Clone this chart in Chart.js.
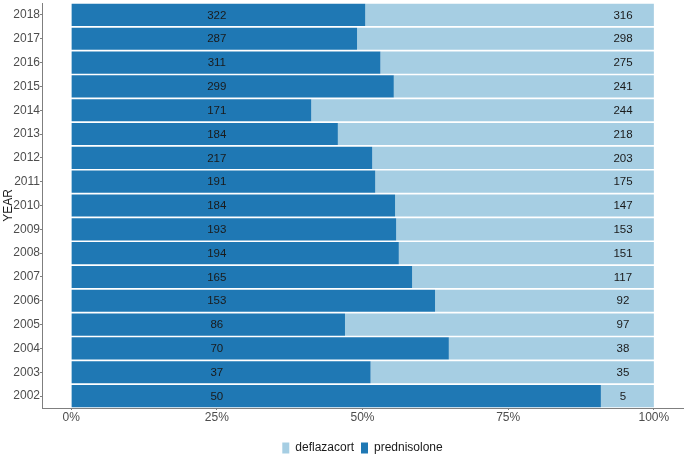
<!DOCTYPE html>
<html><head><meta charset="utf-8">
<script src="https://cdn.jsdelivr.net/npm/chart.js@4"></script>
<style>html,body{margin:0;padding:0;background:#fff}#wrap{width:685px;height:455px}</style>
</head><body><div id="wrap"><canvas id="c"></canvas></div>
<script>
const years = ['2018','2017','2016','2015','2014','2013','2012','2011','2010','2009','2008','2007','2006','2005','2004','2003','2002'];
const prednisolone = [322,287,311,299,171,184,217,191,184,193,194,165,153,86,70,37,50];
const deflazacort  = [316,298,275,241,244,218,203,175,147,153,151,117,92,97,38,35,5];
const xTicks = [0,0.25,0.5,0.75,1];

const predShare = prednisolone.map((p,i)=>p/(p+deflazacort[i]));
const deflShare = deflazacort.map((d,i)=>d/(prednisolone[i]+d));
const FONT = '"Liberation Sans", Arial, sans-serif';

const labelPlugin = {
  id:'countLabels',
  afterDatasetsDraw(chart){
    const ctx = chart.ctx, xs = chart.scales.x, ys = chart.scales.y;
    ctx.save();
    ctx.font = '11.5px ' + FONT;
    ctx.fillStyle = '#1a1a1a';
    ctx.textAlign = 'center'; ctx.textBaseline = 'middle';
    years.forEach((y,i)=>{
      const py = ys.getPixelForValue(i);
      ctx.fillText(String(prednisolone[i]), xs.getPixelForValue(0.25), py+0.5);
      ctx.fillText(String(deflazacort[i]), xs.getPixelForValue(0.947), py+0.5);
    });
    ctx.restore();
  }
};

new Chart(document.getElementById('c'), {
  type:'bar',
  data:{
    labels: years,
    datasets:[
      {label:'prednisolone', data: predShare, backgroundColor:'#1f78b4', borderWidth:0, barPercentage:0.93, categoryPercentage:1},
      {label:'deflazacort', data: deflShare, backgroundColor:'#a6cee3', borderWidth:0, barPercentage:0.93, categoryPercentage:1}
    ]
  },
  options:{
    indexAxis:'y',
    responsive:true, maintainAspectRatio:false, animation:false,
    layout:{padding:{top:3,right:2,left:0,bottom:-9}},
    plugins:{
      legend:{position:'bottom', reverse:true, fullSize:false,
        labels:{boxWidth:7, boxHeight:11, padding:7, color:'#1a1a1a',
          font:{size:12, family:FONT}}},
      tooltip:{enabled:false}
    },
    scales:{
      x:{stacked:true, min:-0.05, max:1.05,
        afterBuildTicks(s){ s.ticks = xTicks.map(v=>({value:v})); },
        afterFit(s){ s.height = 27; },
        grid:{drawOnChartArea:false, tickLength:2, color:'#7f7f7f'},
        border:{color:'#7f7f7f', width:1},
        ticks:{color:'#4d4d4d', padding:0, maxRotation:0,
          font:{size:12, family:FONT},
          callback:(v)=> Math.round(v*100)+'%'}
      },
      y:{stacked:true,
        afterFit(s){ s.width = 42; s.paddingTop = 0; s.paddingBottom = 0; },
        grid:{drawOnChartArea:false, tickLength:2, color:'#7f7f7f', offset:false},
        border:{color:'#7f7f7f', width:1},
        title:{display:true, text:'YEAR', color:'#1a1a1a', padding:{top:1,bottom:0},
          font:{size:12, family:FONT}},
        ticks:{color:'#4d4d4d', padding:0,
          font:{size:12, family:FONT}}
      }
    }
  },
  plugins:[labelPlugin]
});
</script></body></html>
